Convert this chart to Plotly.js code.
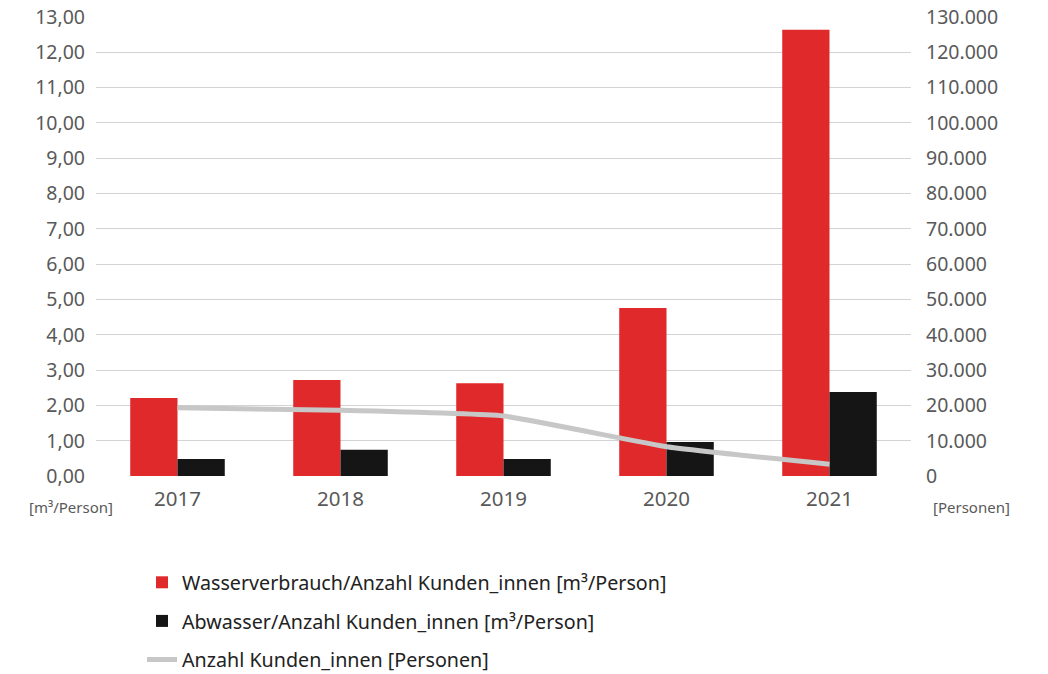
<!DOCTYPE html>
<html>
<head>
<meta charset="utf-8">
<script src="https://cdn.plot.ly/plotly-3.0.1.min.js"></script>
<style>html,body{margin:0;padding:0;background:#fff;}#chart{width:1048px;height:674px;}</style>
</head>
<body>
<div id="chart"></div>
<script>
const years = ['2017', '2018', '2019', '2020', '2021'];
const wasserverbrauch = [2.21, 2.72, 2.63, 4.76, 12.64];
const abwasser = [0.48, 0.74, 0.48, 0.96, 2.38];
const kunden = [19300, 18600, 17000, 8300, 3300];
const seriesNames = [
  'Wasserverbrauch/Anzahl Kunden_innen [m³/Person]',
  'Abwasser/Anzahl Kunden_innen [m³/Person]',
  'Anzahl Kunden_innen [Personen]'
];
const leftUnit = '[m³/Person]';
const rightUnit = '[Personen]';

const FONT = 'Noto Sans, Open Sans, sans-serif';
const TICKCOLOR = '#595959';

const traces = [
  {type: 'bar', x: years, y: wasserverbrauch, name: seriesNames[0], legendgroup: 'a',
   marker: {color: '#e0292a'}, hoverinfo: 'skip'},
  {type: 'bar', x: years, y: abwasser, name: seriesNames[1], legendgroup: 'b',
   marker: {color: '#151515'}, hoverinfo: 'skip'},
  {type: 'scatter', mode: 'lines', x: years, y: kunden, yaxis: 'y2', name: seriesNames[2], legendgroup: 'c',
   line: {color: '#c6c7c6', width: 5, shape: 'spline', smoothing: 0.35}, hoverinfo: 'skip'}
];

const layout = {
  width: 1048, height: 674,
  margin: {l: 96, r: 137, t: 17, b: 198, autoexpand: false},
  paper_bgcolor: '#ffffff', plot_bgcolor: '#ffffff',
  separators: ',.',
  font: {family: FONT, color: TICKCOLOR},
  barmode: 'group', bargap: 0.42, bargroupgap: 0,
  showlegend: true,
  legend: {
    orientation: 'v', xref: 'container', yref: 'container',
    x: 142 / 1048, y: 1 - 563 / 674, xanchor: 'left', yanchor: 'top',
    font: {family: FONT, size: 19.7, color: '#222222'},
    traceorder: 'grouped', tracegroupgap: 10, bgcolor: 'rgba(0,0,0,0)'
  },
  xaxis: {
    type: 'category', showgrid: false, zeroline: false, showline: false, ticks: '',
    tickfont: {family: FONT, size: 20.5, color: TICKCOLOR}, ticklabelstandoff: 8,
    fixedrange: true
  },
  yaxis: {
    range: [0, 13], dtick: 1, tick0: 0, tickformat: ',.2f',
    showgrid: true, gridcolor: '#d3d3d3', gridwidth: 1, zeroline: false, showline: false, ticks: '',
    tickfont: {family: FONT, size: 19.5, color: TICKCOLOR}, ticklabelstandoff: 10,
    fixedrange: true
  },
  yaxis2: {
    overlaying: 'y', side: 'right', range: [0, 130000], dtick: 10000, tick0: 0, tickformat: ',d',
    showgrid: false, zeroline: false, showline: false, ticks: '',
    tickfont: {family: FONT, size: 19.5, color: TICKCOLOR}, ticklabelstandoff: 14,
    fixedrange: true
  },
  annotations: [
    {text: leftUnit, xref: 'paper', yref: 'paper', x: -0.031, y: -0.068, xanchor: 'center', yanchor: 'middle',
     showarrow: false, font: {family: FONT, size: 15, color: TICKCOLOR}},
    {text: rightUnit, xref: 'paper', yref: 'paper', x: 1.074, y: -0.068, xanchor: 'center', yanchor: 'middle',
     showarrow: false, font: {family: FONT, size: 15, color: TICKCOLOR}}
  ]
};

Plotly.newPlot('chart', traces, layout, {displayModeBar: false, staticPlot: true});
</script>
</body>
</html>
